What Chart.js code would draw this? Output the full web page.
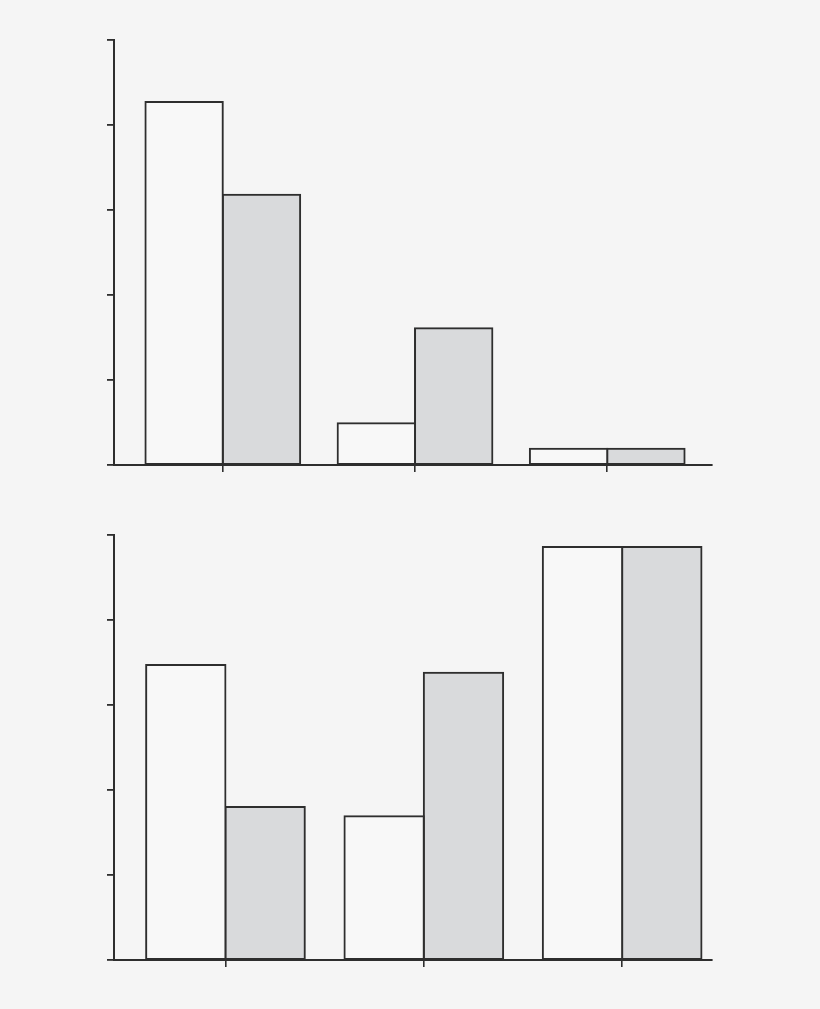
<!DOCTYPE html>
<html>
<head>
<meta charset="utf-8">
<script src="https://cdn.jsdelivr.net/npm/chart.js@4.4.1/dist/chart.umd.min.js"></script>
<style>
  html, body { margin: 0; padding: 0; background: #f5f5f5; }
  .painel { position: absolute; left: 0; width: 820px; }
  #painel_superior { top: 0; height: 500px; }
  #painel_inferior { top: 500px; height: 509px; }
</style>
</head>
<body>
<div class="painel" id="painel_superior"><canvas id="grafico_superior"></canvas></div>
<div class="painel" id="painel_inferior"><canvas id="grafico_inferior"></canvas></div>
<script>
// posicoes dos grupos no eixo x e marcas do eixo y
const grupos = [1, 2, 3];
const marcasY = [0, 1, 2, 3, 4, 5];

// grafico de cima
const superiorClaro = [4.27, 0.49, 0.19];
const superiorEscuro = [3.18, 1.61, 0.19];

// grafico de baixo
const inferiorClaro = [3.47, 1.69, 4.86];
const inferiorEscuro = [1.8, 3.38, 4.86];

const corLinha = "#2e2e2e";
const corClara = "#f8f8f8";
const corEscura = "#d9dadc";

Chart.defaults.animation = false;

function pontos(valores) {
  return grupos.map((g, i) => ({ x: g, y: valores[i] }));
}

function criarGrafico(idCanvas, claro, escuro, xMin, xMax, largura, padding) {
  const ctx = document.getElementById(idCanvas).getContext("2d");

  return new Chart(ctx, {
    type: "bar",
    data: {
      datasets: [
        {
          data: pontos(claro),
          backgroundColor: corClara,
          borderColor: corLinha,
          borderWidth: 2,
          borderSkipped: false,
          inflateAmount: 1,
        },
        {
          data: pontos(escuro),
          backgroundColor: corEscura,
          borderColor: corLinha,
          borderWidth: 2,
          borderSkipped: false,
          inflateAmount: 1,
        },
      ],
    },
    options: {
      responsive: true,
      maintainAspectRatio: false,
      layout: { padding: padding },
      plugins: {
        legend: { display: false },
        tooltip: { enabled: false },
      },
      datasets: {
        bar: { categoryPercentage: largura, barPercentage: 1.0, grouped: true },
      },
      scales: {
        x: {
          type: "linear",
          min: xMin,
          max: xMax,
          offset: false,
          afterBuildTicks: (escala) => {
            escala.ticks = grupos.map((g) => ({ value: g }));
          },
          ticks: { display: false },
          grid: {
            offset: false,
            drawOnChartArea: false,
            drawTicks: true,
            tickLength: 7,
            color: corLinha,
            lineWidth: 1.6,
          },
          border: { display: true, color: corLinha, width: 2 },
        },
        y: {
          min: marcasY[0],
          max: marcasY[marcasY.length - 1],
          afterBuildTicks: (escala) => {
            escala.ticks = marcasY.map((v) => ({ value: v }));
          },
          ticks: { display: false },
          grid: {
            offset: false,
            drawOnChartArea: false,
            drawTicks: true,
            tickLength: 7,
            color: corLinha,
            lineWidth: 1.8,
          },
          border: { display: true, color: corLinha, width: 2 },
        },
      },
    },
  });
}

criarGrafico("grafico_superior", superiorClaro, superiorEscuro, 0.434, 3.545, 0.805, {
  left: 107,
  right: 108,
  top: 40,
  bottom: 28,
});

criarGrafico("grafico_inferior", inferiorClaro, inferiorEscuro, 0.438, 3.453, 0.8, {
  left: 107,
  right: 108,
  top: 35,
  bottom: 42,
});
</script>
</body>
</html>
